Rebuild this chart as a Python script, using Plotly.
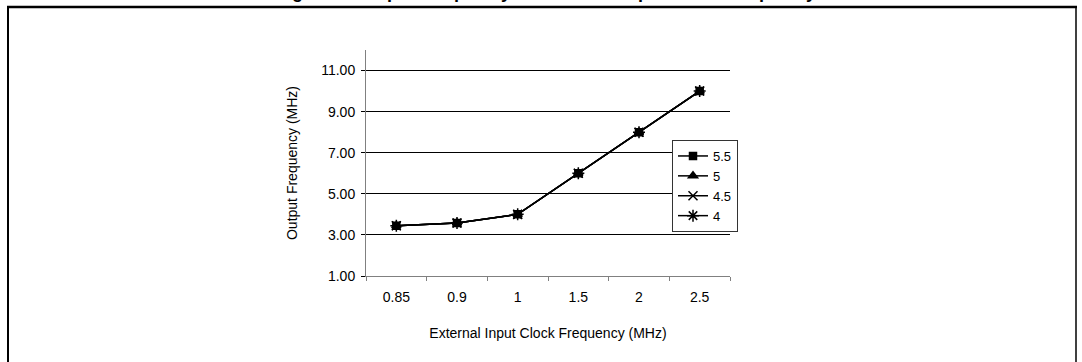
import plotly.graph_objects as go

categories = ["0.85", "0.9", "1", "1.5", "2", "2.5"]
series_names = ["5.5", "5", "4.5", "4"]
v55 = [3.45, 3.58, 4.0, 6.0, 8.0, 10.0]
v50 = [3.45, 3.58, 4.0, 6.0, 8.0, 10.0]
v45 = [3.45, 3.58, 4.0, 6.0, 8.0, 10.0]
v40 = [3.45, 3.58, 4.0, 6.0, 8.0, 10.0]
y_ticks = [1, 3, 5, 7, 9, 11]

W, H = 1082, 362
L, R, T, B = 366, 730, 50, 276
pw, ph = R - L, B - T


def px(x):
    return (x - L) / pw


def py(y):
    return (B - y) / ph


FONT = "Liberation Sans, Arial, sans-serif"
symbols = ["square", "triangle-up", "x-thin-open", "asterisk-open"]
sizes = [7, 8, 9, 10]
fig = go.Figure()
for i, (name, vals) in enumerate(zip(series_names, [v55, v50, v45, v40])):
    fig.add_trace(go.Scatter(
        x=categories, y=vals, name=name, mode="lines+markers",
        legendgroup=f"g{i}",
        line=dict(color="black", width=1.5),
        marker=dict(symbol=symbols[i], size=sizes[i], color="black",
                    line=dict(color="black", width=1.5)),
    ))

fig.update_layout(
    width=W, height=H,
    margin=dict(l=L, r=W - R, t=T, b=H - B),
    paper_bgcolor="white", plot_bgcolor="white",
    font=dict(family=FONT, size=14, color="black"),
    showlegend=True,
    legend=dict(x=px(672), y=py(140), xanchor="left", yanchor="top",
                bgcolor="white", bordercolor="#333333", borderwidth=1,
                font=dict(size=13), tracegroupgap=0, traceorder="grouped"),
    xaxis=dict(type="category", categoryorder="array", categoryarray=categories,
               range=[-0.5, 5.5], showgrid=False, showline=True,
               linecolor="#808080", linewidth=1, ticks="outside",
               tickson="boundaries", ticklen=4, tickcolor="#808080",
               ticklabelstandoff=8,
               title=dict(text="External Input Clock Frequency (MHz)",
                          standoff=24, font=dict(size=14))),
    yaxis=dict(range=[1, 12], tickvals=y_ticks, tickformat=".2f",
               showgrid=True, gridcolor="black", gridwidth=1,
               showline=True, linecolor="#808080", linewidth=1,
               ticks="outside", ticklen=4, tickcolor="black",
               ticklabelstandoff=3, zeroline=False,
               title=dict(text="Output Frequency (MHz)", standoff=20,
                          font=dict(size=14))),
)

# outer frame (left, top, right edges)
fig.add_shape(type="line", xref="paper", yref="paper",
              x0=px(8), x1=px(8), y0=py(7), y1=py(380),
              line=dict(color="black", width=2))
fig.add_shape(type="line", xref="paper", yref="paper",
              x0=px(7), x1=px(1077), y0=py(7), y1=py(7),
              line=dict(color="black", width=2.5))
fig.add_shape(type="line", xref="paper", yref="paper",
              x0=px(1076), x1=px(1076), y0=py(7), y1=py(380),
              line=dict(color="black", width=1.5))

# figure caption, mostly cut off by the top of the image
fig.add_annotation(text="<b>Figure 8. Output Frequency vs. External Input Clock Frequency</b>",
                   xref="paper", yref="paper", x=px(546), y=py(4),
                   xanchor="center", yanchor="bottom", showarrow=False,
                   font=dict(size=18, family=FONT, color="black"))

fig.write_html("out.html", config={"displayModeBar": False},
               post_script="document.body.style.margin='0';")
